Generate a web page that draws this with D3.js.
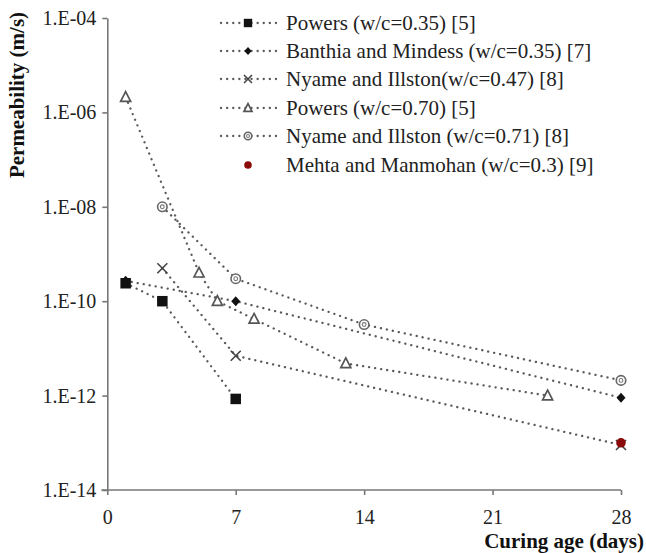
<!DOCTYPE html>
<html>
<head>
<meta charset="utf-8">
<script src="https://cdn.jsdelivr.net/npm/d3@7"></script>
<style>
	body { margin: 0; background: #fff; }
	svg { display: block; font-family: "Liberation Serif", "Times New Roman", serif; }
	.axis path, .axis line { stroke: #777; stroke-width: 1.6; }
	.axis text { font-size: 20px; fill: #222; font-family: "Liberation Serif", serif; }
	.label { font-size: 21px; font-weight: bold; fill: #111; }
	.legend text { font-size: 21px; fill: #222; }
	.links { fill: none; stroke: #5a5a5a; stroke-width: 2.3; stroke-dasharray: 0.1 6; stroke-linecap: round; }
</style>
</head>
<body>
<div id="chart"></div>
<script>
// curing ages (days) and permeability (m/s)
var powers035_days = [1, 3, 7]
var powers035_vals = [2.4e-10, 1.0e-10, 8.5e-13]
var banthia_days = [1, 7, 28]
var banthia_vals = [2.7e-10, 1.0e-10, 9.0e-13]
var nyame047_days = [3, 7, 28]
var nyame047_vals = [5.0e-10, 7.0e-12, 9.0e-14]
var powers070_days = [1, 5, 6, 8, 13, 24]
var powers070_vals = [2.1e-6, 4.0e-10, 1.0e-10, 4.2e-11, 4.8e-12, 1.0e-12]
var nyame071_days = [3, 7, 14, 28]
var nyame071_vals = [1.0e-8, 3.0e-10, 3.2e-11, 2.1e-12]
var mehta_days = [28]
var mehta_vals = [1.0e-13]

var x_ticks = [0, 7, 14, 21, 28]
var y_ticks = [1e-14, 1e-12, 1e-10, 1e-8, 1e-6, 1e-4]

var series_names = [
	"Powers (w/c=0.35) [5]",
	"Banthia and Mindess (w/c=0.35) [7]",
	"Nyame and Illston(w/c=0.47) [8]",
	"Powers (w/c=0.70) [5]",
	"Nyame and Illston (w/c=0.71) [8]",
	"Mehta and Manmohan (w/c=0.3) [9]"
]

var width = 646, height = 553
var margins = {left: 107.3, right: 25, top: 18, bottom: 63}
var graph_width = width - margins.left - margins.right
var graph_height = height - margins.top - margins.bottom

var svg = d3.select("#chart").append("svg")
	.attr("width", width)
	.attr("height", height)
var chart = svg.append("g")
	.attr("transform", "translate(" + margins.left + "," + margins.top + ")")

var xscale = d3.scaleLinear().domain([0, 28]).range([0, graph_width])
var yscale = d3.scaleLog().domain([1e-14, 1e-4]).range([graph_height, 0])

var fmt = (d) => "1.E-" + String(-Math.round(Math.log10(d))).padStart(2, "0")

var yaxis = chart.append("g").attr("class", "axis")
	.call(d3.axisLeft(yscale).tickValues(y_ticks).tickFormat(fmt).tickSizeInner(5).tickSizeOuter(0).tickPadding(6))
var xaxis = chart.append("g").attr("class", "axis")
	.attr("transform", "translate(0," + graph_height + ")")
	.call(d3.axisBottom(xscale).tickValues(x_ticks).tickSizeInner(5).tickSizeOuter(0).tickPadding(6))
xaxis.selectAll("text").attr("y", 34).attr("dy", null)
// extend x axis a little to the left like the original
xaxis.select("path.domain").attr("d", "M-6,0H" + graph_width)

svg.append("text")
	.attr("class", "label")
	.attr("transform", "translate(24,95) rotate(-90)")
	.style("text-anchor", "middle")
	.text("Permeability (m/s)")
svg.append("text")
	.attr("class", "label")
	.attr("x", 644)
	.attr("y", 548)
	.style("text-anchor", "end")
	.text("Curing age (days)")

// marker drawers
function square(g, s) {
	g.append("rect").attr("x", -s/2).attr("y", -s/2).attr("width", s).attr("height", s).attr("fill", "#111")
}
function diamond(g, s) {
	g.append("path").attr("d", "M0," + (-s/2) + "L" + (s*0.45) + ",0L0," + (s/2) + "L" + (-s*0.45) + ",0Z").attr("fill", "#111")
}
function cross(g, s) {
	g.append("path").attr("d", "M" + (-s/2) + "," + (-s/2) + "L" + (s/2) + "," + (s/2) + "M" + (-s/2) + "," + (s/2) + "L" + (s/2) + "," + (-s/2))
		.attr("stroke", "#444").attr("stroke-width", 1.6).attr("fill", "none")
}
function triangle(g, s) {
	g.append("path").attr("d", "M0," + (-s*0.55) + "L" + (s/2) + "," + (s*0.42) + "L" + (-s/2) + "," + (s*0.42) + "Z")
		.attr("stroke", "#555").attr("stroke-width", 1.7).attr("fill", "#fff")
}
function ring(g, s) {
	g.append("circle").attr("r", s/2).attr("stroke", "#666").attr("stroke-width", 1.6).attr("fill", "#fff")
	g.append("circle").attr("r", s/5).attr("stroke", "#777").attr("stroke-width", 1.1).attr("fill", "none")
}
function reddot(g, s) {
	g.append("circle").attr("r", s/2).attr("fill", "#8b0a0a")
}

var series = [
	{days: powers035_days, vals: powers035_vals, marker: square, size: 10.5, line: true},
	{days: banthia_days, vals: banthia_vals, marker: diamond, size: 10, line: true},
	{days: nyame047_days, vals: nyame047_vals, marker: cross, size: 10, line: true},
	{days: powers070_days, vals: powers070_vals, marker: triangle, size: 10, line: true},
	{days: nyame071_days, vals: nyame071_vals, marker: ring, size: 9.5, line: true},
	{days: mehta_days, vals: mehta_vals, marker: reddot, size: 9.5, line: false}
]

var line_gen = d3.line().x((d) => xscale(d[0])).y((d) => yscale(d[1]))

series.forEach(function (s) {
	var pts = d3.zip(s.days, s.vals)
	if (s.line) {
		chart.append("path").attr("class", "links").attr("d", line_gen(pts))
	}
})
series.forEach(function (s) {
	var pts = d3.zip(s.days, s.vals)
	chart.selectAll(null).data(pts).enter()
		.append("g")
		.attr("transform", (d) => "translate(" + xscale(d[0]) + "," + yscale(d[1]) + ")")
		.each(function () { s.marker(d3.select(this), s.size) })
})

// legend
var legend = svg.append("g").attr("class", "legend")
var row_y = [23, 51, 79, 108, 136, 165]
series.forEach(function (s, i) {
	var row = legend.append("g").attr("transform", "translate(0," + row_y[i] + ")")
	if (s.line) {
		row.append("path").attr("class", "links").attr("d", "M221,0H277")
	}
	s.marker(row.append("g").attr("transform", "translate(248,0)"), s.size * 0.8)
	row.append("text").attr("x", 286).attr("y", 7).text(series_names[i])
})
</script>
</body>
</html>
